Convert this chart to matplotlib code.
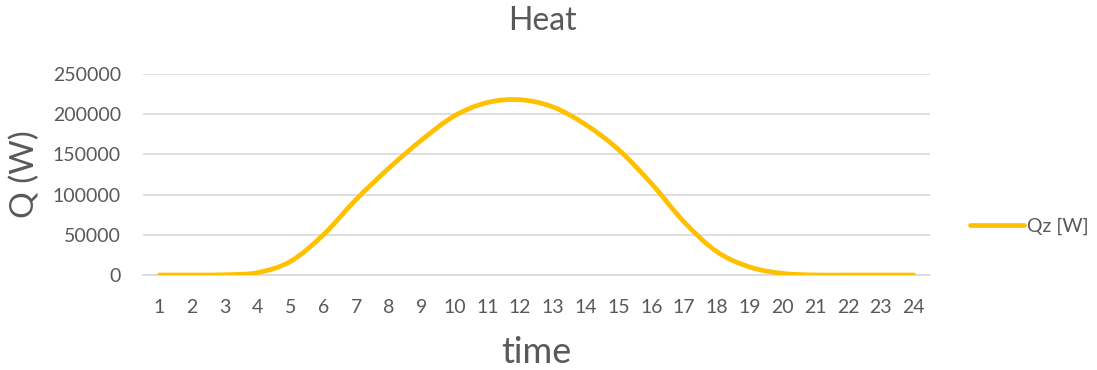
import numpy as np
import matplotlib as mpl
mpl.use("Agg")
import matplotlib.pyplot as plt
from matplotlib.path import Path
from matplotlib.patches import PathPatch
from matplotlib.lines import Line2D

# data
hours = list(range(1, 25))
qz_w = [0, 0, 300, 3000, 17000, 50000, 94000, 133000, 168000, 198000,
        214500, 218000, 209000, 187000, 156000, 114000, 66000, 29000,
        10000, 2000, 0, 0, 0, 0]

C_LINE = "#FFC000"
C_TEXT = "#595959"
C_GRID = "#D9D9D9"

plt.rcParams["font.family"] = ["Lato", "DejaVu Sans"]


def smooth_path(x, y, t=1 / 6):
    """Excel-style smoothed line as cubic Bezier segments."""
    x = np.asarray(x, float)
    y = np.asarray(y, float)
    verts = [(x[0], y[0])]
    codes = [Path.MOVETO]
    n = len(x)
    for i in range(n - 1):
        p0 = i - 1 if i > 0 else i
        p3 = i + 2 if i + 2 < n else i + 1
        c1 = (x[i] + (x[i + 1] - x[p0]) * t, y[i] + (y[i + 1] - y[p0]) * t)
        c2 = (x[i + 1] - (x[p3] - x[i]) * t, y[i + 1] - (y[p3] - y[i]) * t)
        verts += [c1, c2, (x[i + 1], y[i + 1])]
        codes += [Path.CURVE4] * 3
    return Path(verts, codes)


fig = plt.figure(figsize=(10.97, 3.70), dpi=100)
ax = fig.add_axes([143 / 1097, 1 - 275 / 370, 787 / 1097, 201 / 370])

ax.add_patch(PathPatch(smooth_path(hours, qz_w), fill=False, color=C_LINE,
                       lw=3.4, capstyle="round", zorder=3))

ax.set_xlim(0.5, 24.5)
ax.set_ylim(0, 250000)
ax.set_xticks(hours)
ax.set_yticks(np.arange(0, 250001, 50000))
ax.tick_params(length=0, labelsize=14, labelcolor=C_TEXT)
ax.tick_params(axis="x", pad=17.5)
ax.tick_params(axis="y", pad=16)
ax.yaxis.grid(True, color=C_GRID, lw=1.2)
ax.set_axisbelow(True)
for s in ["top", "right", "left"]:
    ax.spines[s].set_visible(False)
ax.spines["bottom"].set_color(C_GRID)
ax.spines["bottom"].set_linewidth(1.2)

ax.set_xlabel("time", fontsize=26, color=C_TEXT, labelpad=14)
ax.set_ylabel("Q (W)", fontsize=24, color=C_TEXT, labelpad=9)
fig.text(542 / 1097, 1 - 29.5 / 370, "Heat", ha="center", va="baseline",
         fontsize=23, color=C_TEXT)

handle = Line2D([0], [0], color=C_LINE, lw=3.4, solid_capstyle="round")
fig.legend([handle], ["Qz [W]"], loc="center left",
           bbox_to_anchor=(970 / 1097, 1 - 226.5 / 370),
           frameon=False, fontsize=14, labelcolor=C_TEXT, handlelength=2.8,
           handletextpad=0.15, borderpad=0, borderaxespad=0)

fig.savefig("out.png", dpi=100)
